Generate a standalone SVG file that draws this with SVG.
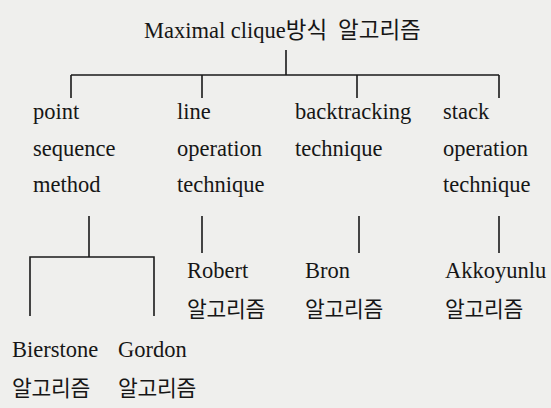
<svg xmlns="http://www.w3.org/2000/svg" width="551" height="408" viewBox="0 0 551 408">
<style>
.t{font-family:"Liberation Serif","Noto Serif CJK KR","Noto Sans CJK KR",serif;font-size:22.5px;fill:#161616}
.k{font-family:"Noto Sans CJK KR","Noto Sans CJK SC",sans-serif;font-size:21.5px;fill:#161616;letter-spacing:-0.3px}
.kt{font-family:"Noto Sans CJK KR","Noto Sans CJK SC",sans-serif;font-size:22.5px;letter-spacing:0px}
.c{stroke:#1a1a1a;stroke-width:1.6;fill:none}
</style>
<rect width="551" height="408" fill="#efefed"/>
<g id="connectors" class="c">
<path d="M286 50V75M71 75H499M71 75V98M202 75V98M357 75V98M499 75V98"/>
<path d="M89 216V257M30 316V257H154V316"/>
<path d="M202 216V253M359 216V253M499 216V253"/>
</g>
<g id="root"><text class="t" x="144" y="38">Maximal clique<tspan class="kt">방식 </tspan><tspan class="kt" x="338">알고리즘</tspan></text></g>
<g id="point"><text class="t" x="33" y="119">point</text><text class="t" x="33" y="156">sequence</text><text class="t" x="33" y="192">method</text></g>
<g id="line"><text class="t" x="177" y="119">line</text><text class="t" x="177" y="156">operation</text><text class="t" x="177" y="192">technique</text></g>
<g id="backtracking"><text class="t" x="295" y="119">backtracking</text><text class="t" x="295" y="156">technique</text></g>
<g id="stack"><text class="t" x="443" y="119">stack</text><text class="t" x="443" y="156">operation</text><text class="t" x="443" y="192">technique</text></g>
<g id="robert"><text class="t" x="187" y="278">Robert</text><text class="k" x="187" y="317">알고리즘</text></g>
<g id="bron"><text class="t" x="305" y="278">Bron</text><text class="k" x="305" y="317">알고리즘</text></g>
<g id="akkoyunlu"><text class="t" x="445" y="278">Akkoyunlu</text><text class="k" x="445" y="317">알고리즘</text></g>
<g id="bierstone"><text class="t" x="12" y="357">Bierstone</text><text class="k" x="12" y="396">알고리즘</text></g>
<g id="gordon"><text class="t" x="118" y="357">Gordon</text><text class="k" x="118" y="396">알고리즘</text></g>
</svg>
